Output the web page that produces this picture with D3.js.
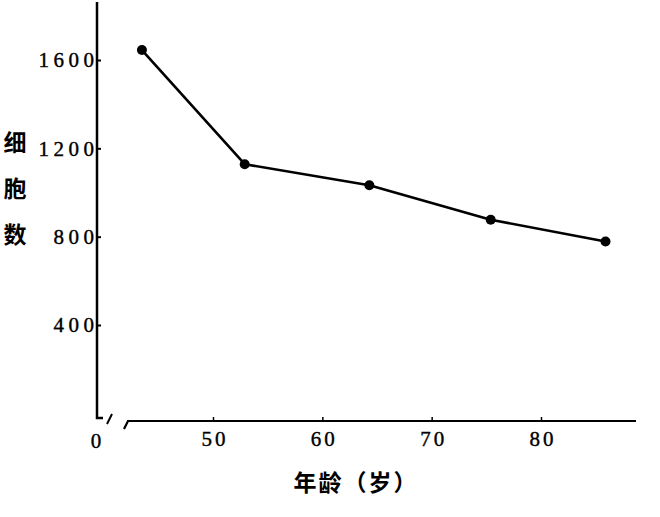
<!DOCTYPE html>
<html><head><meta charset="utf-8">
<script src="https://cdn.jsdelivr.net/npm/d3@7"></script>
<style>
body{margin:0;background:#fff;}
svg{display:block;}
</style></head>
<body>
<svg id="c" width="660" height="517"></svg>
<script>
const ages = [43.5, 52.9, 64.3, 75.4, 85.9];
const cells = [1645, 1128, 1033, 877, 778];
const xTicks = [50, 60, 70, 80];
const yTicks = [400, 800, 1200, 1600];
const yLabel = ["细", "胞", "数"];
const xLabel = "年龄（岁）";

const svg = d3.select("#c");
const x = d3.scaleLinear().domain([50, 80]).range([213, 541]);
const y = d3.scaleLinear().domain([400, 1600]).range([325, 60]);
const serif = "'Liberation Serif','DejaVu Serif',serif";
const cjk = "'Noto Sans CJK SC','Noto Sans CJK JP',sans-serif";

// y axis
const yAxis = d3.axisLeft(y).tickValues(yTicks).tickSizeInner(-4).tickSizeOuter(0).tickPadding(3).tickFormat(d3.format("d"));
const gy = svg.append("g").attr("transform", "translate(97,0)").call(yAxis);
gy.select(".domain").remove();
gy.selectAll("line").attr("stroke", "#000").attr("stroke-width", 2);
gy.selectAll("text").attr("font-family", serif).attr("font-size", 21).attr("letter-spacing", 4.5)
  .attr("fill", "#000").attr("stroke", "#000").attr("stroke-width", 0.4).attr("dx", 4.5);
// y axis line with break hook
svg.append("path").attr("d", d3.line()([[97, 2], [97, 418], [103, 418]]))
  .attr("fill", "none").attr("stroke", "#000").attr("stroke-width", 2.5);
svg.append("path").attr("d", d3.line()([[107, 424], [112, 414]]))
  .attr("fill", "none").attr("stroke", "#000").attr("stroke-width", 2);

// x axis
const xAxis = d3.axisBottom(x).tickValues(xTicks).tickSizeInner(-4).tickSizeOuter(0).tickPadding(10).tickFormat(d3.format("d"));
const gx = svg.append("g").attr("transform", "translate(0,421)").call(xAxis);
gx.select(".domain").remove();
gx.selectAll("line").attr("stroke", "#000").attr("stroke-width", 1.5);
gx.selectAll("text").attr("font-family", serif).attr("font-size", 21).attr("letter-spacing", 3)
  .attr("fill", "#000").attr("stroke", "#000").attr("stroke-width", 0.4).attr("dx", 1.5);
svg.append("path").attr("d", d3.line()([[124, 429], [128, 421], [636, 421]]))
  .attr("fill", "none").attr("stroke", "#000").attr("stroke-width", 2.2);
svg.append("text").attr("x", 96).attr("y", 448).attr("text-anchor", "middle")
  .attr("font-family", serif).attr("font-size", 21).attr("stroke", "#000").attr("stroke-width", 0.4).text("0");

// data line
const pts = ages.map((a, i) => [x(a), y(cells[i])]);
svg.append("path").attr("d", d3.line()(pts)).attr("fill", "none")
  .attr("stroke", "#000").attr("stroke-width", 2.6).attr("stroke-linejoin", "round");
svg.selectAll("circle.p").data(pts).enter().append("circle")
  .attr("cx", d => d[0]).attr("cy", d => d[1]).attr("r", 5).attr("fill", "#000");

// labels
svg.selectAll("text.yl").data(yLabel).enter().append("text")
  .attr("x", 15).attr("y", (d, i) => 151 + i * 46).attr("text-anchor", "middle")
  .attr("font-family", cjk).attr("font-weight", 700).attr("font-size", 23).text(d => d);
svg.append("text").attr("x", 356).attr("y", 491).attr("text-anchor", "middle")
  .attr("font-family", cjk).attr("font-weight", 700).attr("font-size", 23).attr("letter-spacing", 2).text(xLabel);
</script>
</body></html>
